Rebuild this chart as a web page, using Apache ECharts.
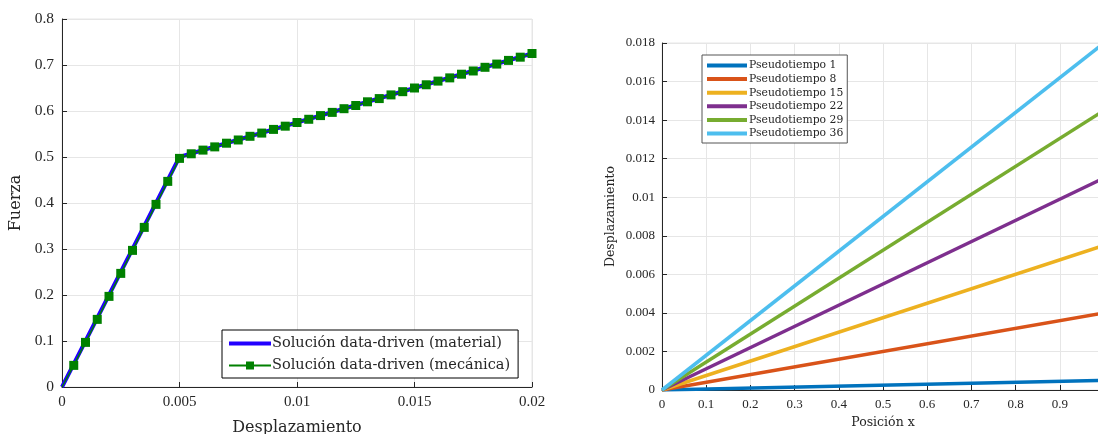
<!DOCTYPE html>
<html>
<head>
<meta charset="utf-8">
<script src="https://cdn.jsdelivr.net/npm/echarts@6/dist/echarts.min.js"></script>
<style>
html, body { margin: 0; padding: 0; background: #fff; }
#chart { width: 1098px; height: 434px; }
</style>
</head>
<body>
<div id="chart"></div>
<script>
// panel izquierdo: fuerza vs desplazamiento
const materialX = [0, 0.005, 0.02];
const materialY = [0, 0.5, 0.725];
const mecanicaX = [0, 0.0005, 0.001, 0.0015, 0.002, 0.0025, 0.003, 0.0035, 0.004, 0.0045, 0.005,
  0.0055, 0.006, 0.0065, 0.007, 0.0075, 0.008, 0.0085, 0.009, 0.0095, 0.01,
  0.0105, 0.011, 0.0115, 0.012, 0.0125, 0.013, 0.0135, 0.014, 0.0145, 0.015,
  0.0155, 0.016, 0.0165, 0.017, 0.0175, 0.018, 0.0185, 0.019, 0.0195, 0.02];
const mecanicaY = [0, 0.047, 0.097, 0.147, 0.197, 0.247, 0.297, 0.347, 0.397, 0.447, 0.497,
  0.507, 0.515, 0.522, 0.53, 0.537, 0.545, 0.552, 0.56, 0.567, 0.575,
  0.582, 0.59, 0.597, 0.605, 0.612, 0.62, 0.627, 0.635, 0.642, 0.65,
  0.657, 0.665, 0.672, 0.68, 0.687, 0.695, 0.702, 0.71, 0.717, 0.725];

// panel derecho: desplazamiento vs posicion
const posX = [0, 1];
const pseudoNames = ['Pseudotiempo 1', 'Pseudotiempo 8', 'Pseudotiempo 15', 'Pseudotiempo 22', 'Pseudotiempo 29', 'Pseudotiempo 36'];
const pseudoEnd = [0.0005, 0.004, 0.0075, 0.011, 0.0145, 0.018];
const pseudoColors = ['#0072BD', '#D95319', '#EDB120', '#7E2F8E', '#77AC30', '#4DBEEE'];

const FONT = '"Liberation Serif", "DejaVu Serif", serif';
const WIDE = '"DejaVu Serif", "Liberation Serif", serif';
const AX = '#262626';
const GRIDC = '#e6e6e6';

function pairs(xs, ys) {
  return xs.map((x, i) => [x, ys[i]]);
}

const myChart = echarts.init(document.getElementById('chart'));

let series = [
  {
    name: 'Solución data-driven (material)',
    type: 'line',
    xAxisIndex: 0, yAxisIndex: 0,
    symbol: 'none',
    lineStyle: { color: '#2200ff', width: 4 },
    itemStyle: { color: '#2200ff' },
    data: pairs(materialX, materialY),
    z: 2
  },
  {
    name: 'Solución data-driven (mecánica)',
    type: 'line',
    xAxisIndex: 0, yAxisIndex: 0,
    symbol: 'rect',
    symbolSize: 9,
    showAllSymbol: true,
    lineStyle: { color: '#008000', width: 1.5 },
    itemStyle: { color: '#008000' },
    data: pairs(mecanicaX, mecanicaY).map((p, i) => i === 0 ? { value: p, symbolSize: 0 } : p),
    z: 3
  }
];

pseudoNames.forEach((n, i) => {
  series.push({
    name: n,
    type: 'line',
    xAxisIndex: 1, yAxisIndex: 1,
    symbol: 'none',
    lineStyle: { color: pseudoColors[i], width: 3.5 },
    itemStyle: { color: pseudoColors[i] },
    data: pairs(posX, [0, pseudoEnd[i]])
  });
});

const axisCommon = {
  axisLine: { show: true, lineStyle: { color: AX, width: 1 } },
  axisTick: { show: true, inside: true, length: 5, lineStyle: { color: AX } },
  splitLine: { show: true, lineStyle: { color: GRIDC, width: 1 } }
};

let option = {
  animation: false,
  textStyle: { fontFamily: FONT },
  grid: [
    { left: 62, right: 566, top: 19, bottom: 47, outerBoundsMode: 'none', show: true, borderColor: GRIDC, borderWidth: 1 },
    { left: 662, right: -6, top: 43, bottom: 44, outerBoundsMode: 'none', show: true, borderColor: GRIDC, borderWidth: 1 }
  ],
  legend: [
    {
      data: [
        { name: 'Solución data-driven (material)', icon: 'path://M0,0L42,0L42,4L0,4Z' },
        { name: 'Solución data-driven (mecánica)' }
      ],
      orient: 'vertical',
      left: 222, top: 330,
      itemWidth: 42, itemHeight: 10, itemGap: 7,
      padding: [6, 8, 5, 6],
      backgroundColor: '#fff',
      borderColor: '#000', borderWidth: 1, borderRadius: 0,
      textStyle: { fontFamily: WIDE, fontSize: 14.5, color: AX, padding: [0, 0, 0, -4] }
    },
    {
      data: pseudoNames,
      icon: 'path://M0,0L40,0L40,4L0,4Z',
      orient: 'vertical',
      left: 702, top: 55,
      itemWidth: 40, itemHeight: 4, itemGap: 2.6,
      padding: [5, 4, 4, 5],
      backgroundColor: '#fff',
      borderColor: '#555', borderWidth: 1, borderRadius: 0,
      textStyle: { fontFamily: WIDE, fontSize: 10.8, color: AX, padding: [0, 0, 0, -3] }
    }
  ],
  xAxis: [
    Object.assign({}, axisCommon, {
      gridIndex: 0, type: 'value', min: 0, max: 0.02, interval: 0.005,
      name: 'Desplazamiento', nameLocation: 'middle', nameGap: 33,
      nameTextStyle: { fontFamily: WIDE, color: AX, fontSize: 16 },
      axisLabel: { fontFamily: FONT, fontSize: 15, color: AX, margin: 8 }
    }),
    Object.assign({}, axisCommon, {
      gridIndex: 1, type: 'value', min: 0, max: 1, interval: 0.1,
      name: 'Posición x', nameLocation: 'middle', nameGap: 26,
      nameTextStyle: { fontFamily: WIDE, color: AX, fontSize: 12.5 },
      axisLabel: {
        fontFamily: FONT, fontSize: 13, color: AX, margin: 8,
        formatter: v => v >= 1 ? '' : String(Math.round(v * 10) / 10)
      }
    })
  ],
  yAxis: [
    Object.assign({}, axisCommon, {
      gridIndex: 0, type: 'value', min: 0, max: 0.8, interval: 0.1,
      name: 'Fuerza', nameLocation: 'middle', nameGap: 38,
      nameTextStyle: { fontFamily: WIDE, color: AX, fontSize: 16 },
      axisLabel: { fontFamily: FONT, fontSize: 15.5, color: AX, margin: 8 }
    }),
    Object.assign({}, axisCommon, {
      gridIndex: 1, type: 'value', min: 0, max: 0.018, interval: 0.002,
      name: 'Desplazamiento', nameLocation: 'middle', nameGap: 45,
      nameTextStyle: { fontFamily: WIDE, color: AX, fontSize: 12.5 },
      axisLabel: {
        fontFamily: FONT, fontSize: 13, color: AX, margin: 7,
        formatter: v => v === 0 ? '0' : v.toFixed(3).replace(/0+$/, '')
      }
    })
  ],
  series: series
};

myChart.setOption(option);
</script>
</body>
</html>
